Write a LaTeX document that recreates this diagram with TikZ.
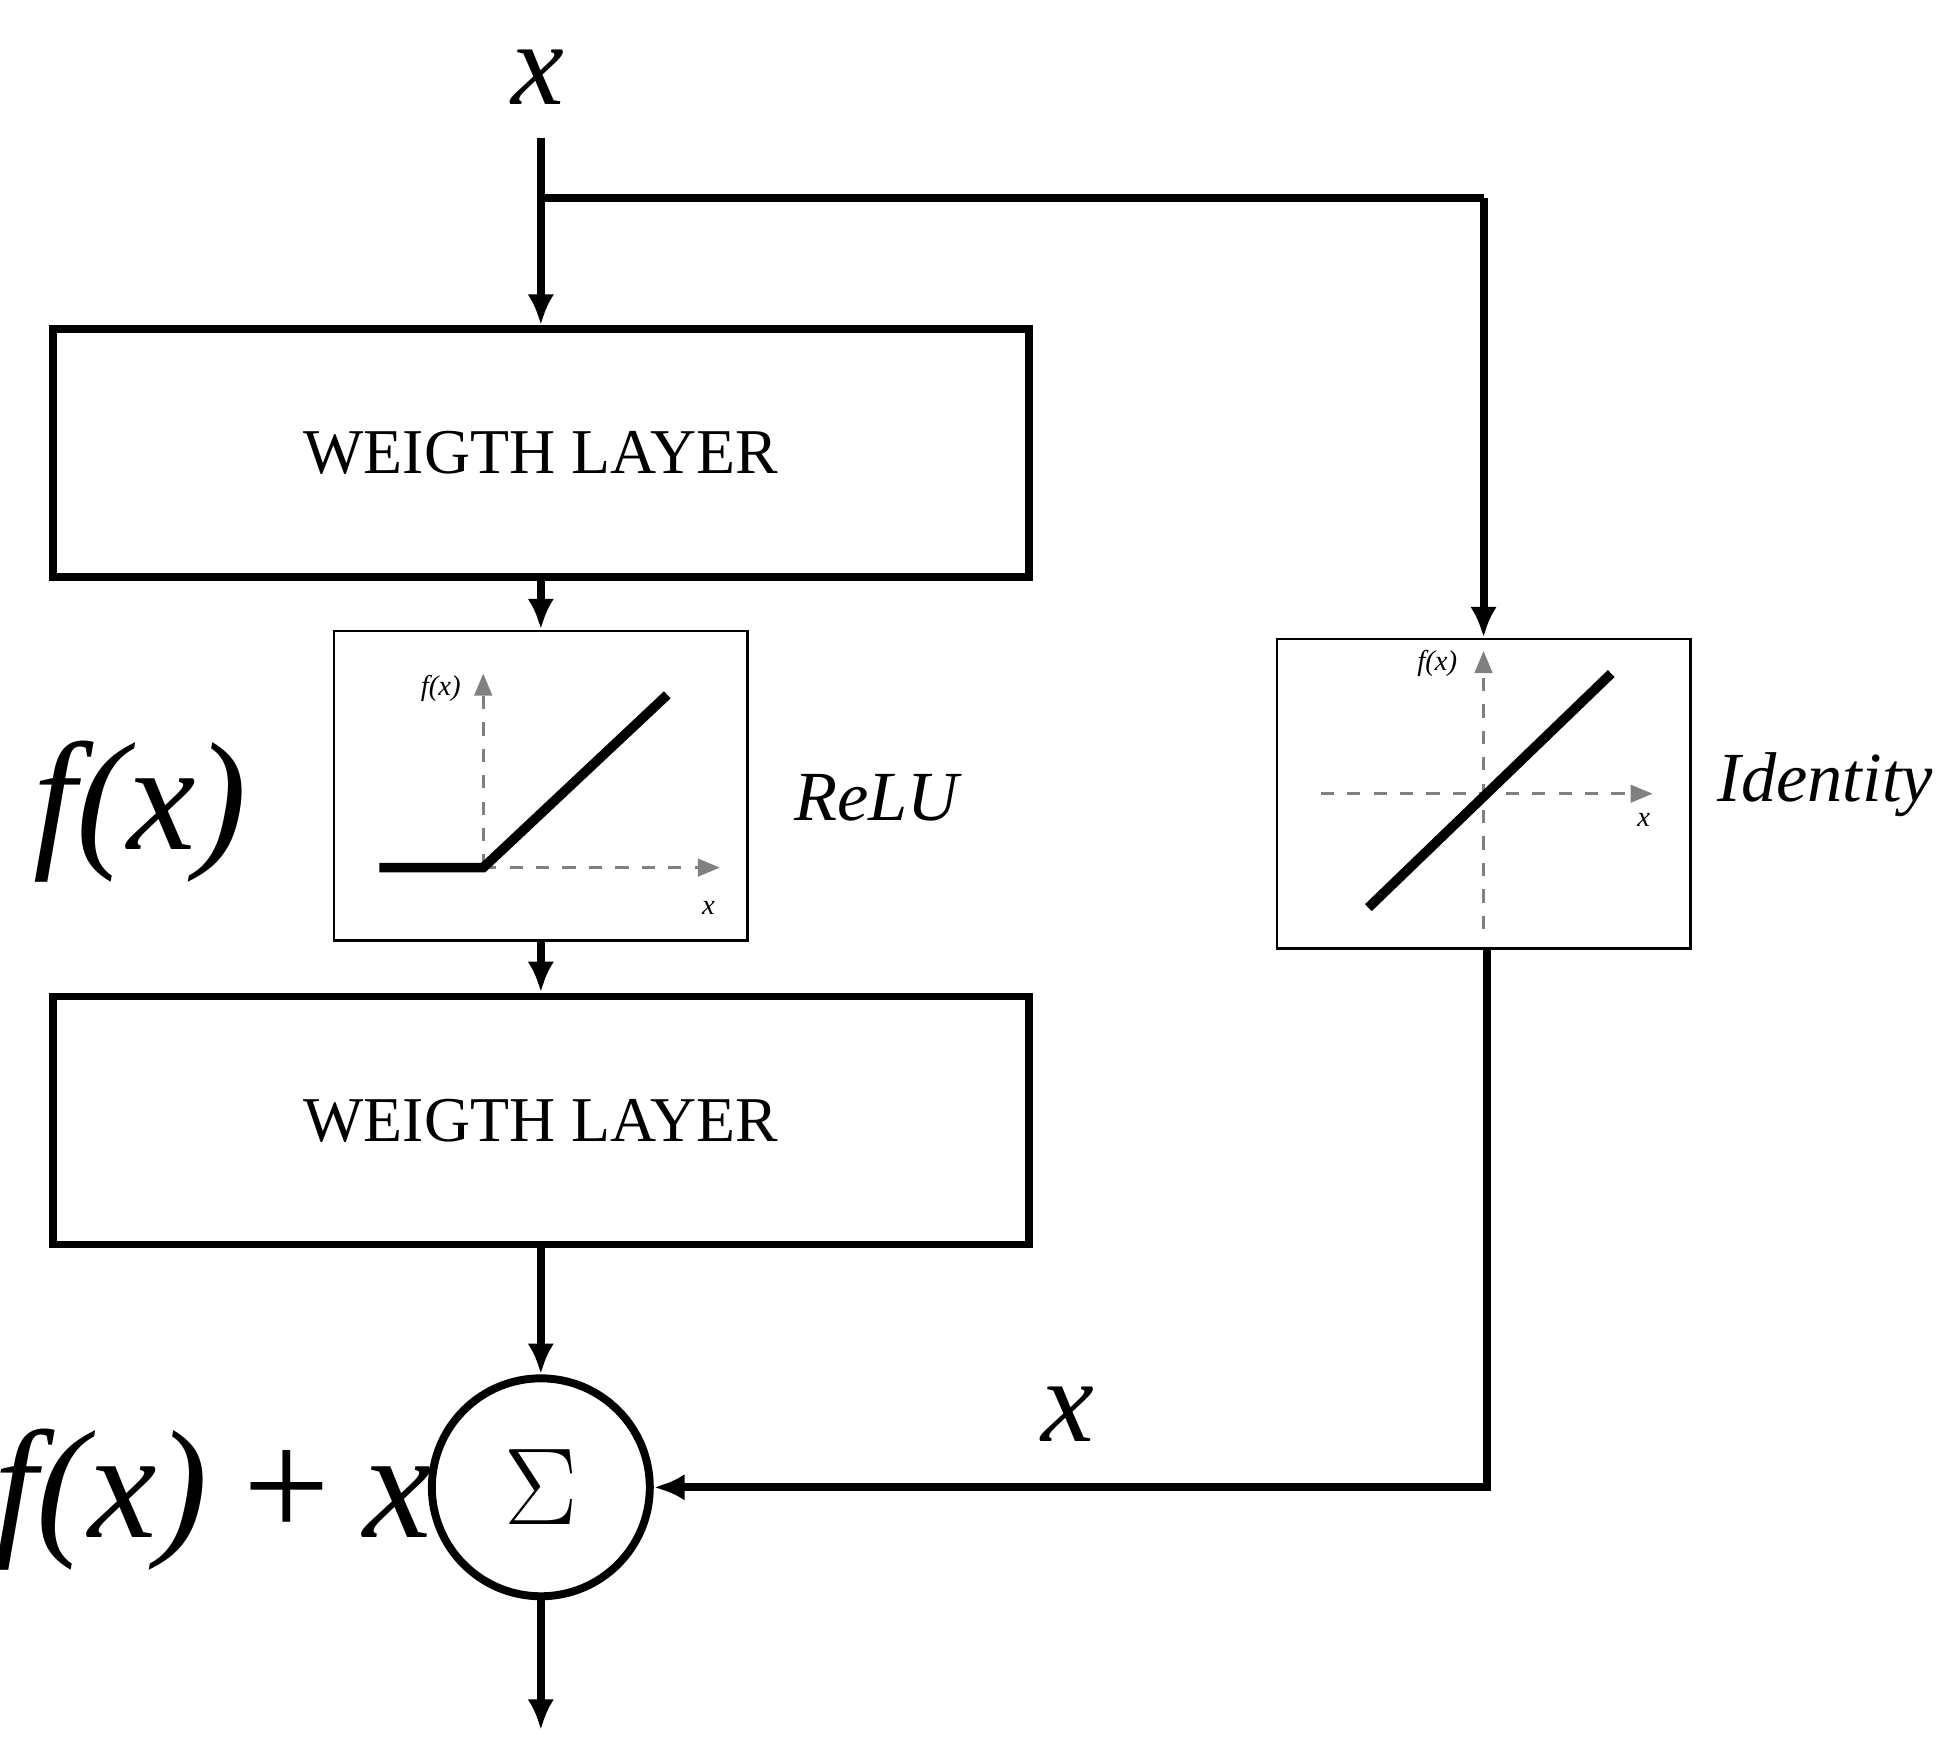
\documentclass[tikz,border=0pt]{standalone}
\usepackage{fontspec}
\setmainfont{Liberation Serif}
\usetikzlibrary{arrows.meta,positioning}
\tikzset{
    layer/.style={draw, line width=1.8pt, minimum width=7.79cm, minimum height=1.98cm, font=\fontsize{14.5}{14.5}\selectfont},
    plotbox/.style={draw, line width=0.6pt, minimum width=3.3cm, minimum height=2.47cm},
    flow/.style={line width=1.8pt, -{Latex[length=7pt,width=6pt]}},
    wire/.style={line width=1.8pt},
    axis/.style={gray, dashed, line width=0.6pt, -{Triangle[length=5pt,width=4pt]}},
    curve/.style={line width=2.2pt},
    big/.style={font=\fontsize{27}{27}\selectfont\itshape},
    huge/.style={font=\fontsize{35}{35}\selectfont\itshape},
    actlabel/.style={font=\fontsize{16}{16}\selectfont\itshape},
    small/.style={font=\fontsize{6.5}{6.5}\selectfont\itshape},
}
\begin{document}
\begin{tikzpicture}[x=0.01cm, y=-0.01cm]
\useasboundingbox (0,0) rectangle (1560,1408);
% input
\node[big] (in) at (430,62) {x};
\coordinate (top) at (432,110);
\coordinate (split) at (432,158);
\coordinate (corner) at (1185,158);
% main branch
\node[layer] (w1) at (432,362) {WEIGTH LAYER};
\node[plotbox] (relu) at (432,627.5) {};
\node[layer] (w2) at (432,895) {WEIGTH LAYER};
\node[draw, circle, line width=1.8pt, minimum size=1.74cm, inner sep=0pt,
    font=\fontsize{40}{40}\selectfont] (sum) at (432,1188) {$\Sigma$};
\coordinate (out) at (432,1382);
% shortcut
\node[plotbox] (iden) at (1185,634) {};
\coordinate (back) at (1188,1188);
% labels
\node[huge] (fx) at (112,648) {f(x)};
\node[actlabel] (relulbl) at (700,637) {ReLU};
\node[actlabel] (idlbl) at (1458,627) {Identity};
\node[huge] (fxx) at (170,1198) {f(x)\,+\,x};
\node[big] (xlbl) at (853,1130) {x};
% connectors
\draw[flow] (top) -- (w1.north);
\draw[wire] (split) -- (corner);
\draw[flow] (corner) -- (iden.north);
\draw[flow] (w1.south) -- (relu.north);
\draw[flow] (relu.south) -- (w2.north);
\draw[flow] (w2.south) -- (sum.north);
\draw[flow] (sum.south) -- (out);
\draw[flow] (iden.south -| back) -- (back) -- (sum.east);
% relu plot
\coordinate (r0) at (386,693);
\draw[axis] (r0) -- (386,538);
\draw[axis] (r0) -- (575,693);
\node[small] (rfx) at (352,550) {f(x)};
\node[small] (rx) at (566,725) {x};
\draw[curve] (303,693) -- (r0) -- (533,555);
% identity plot
\draw[axis] (1185,742) -- (1185,520);
\draw[axis] (1055,634) -- (1320,634);
\node[small] (ifx) at (1148,530) {f(x)};
\node[small] (ix) at (1313,655) {x};
\draw[curve] (1093,725) -- (1287,538);
\end{tikzpicture}
\end{document}
